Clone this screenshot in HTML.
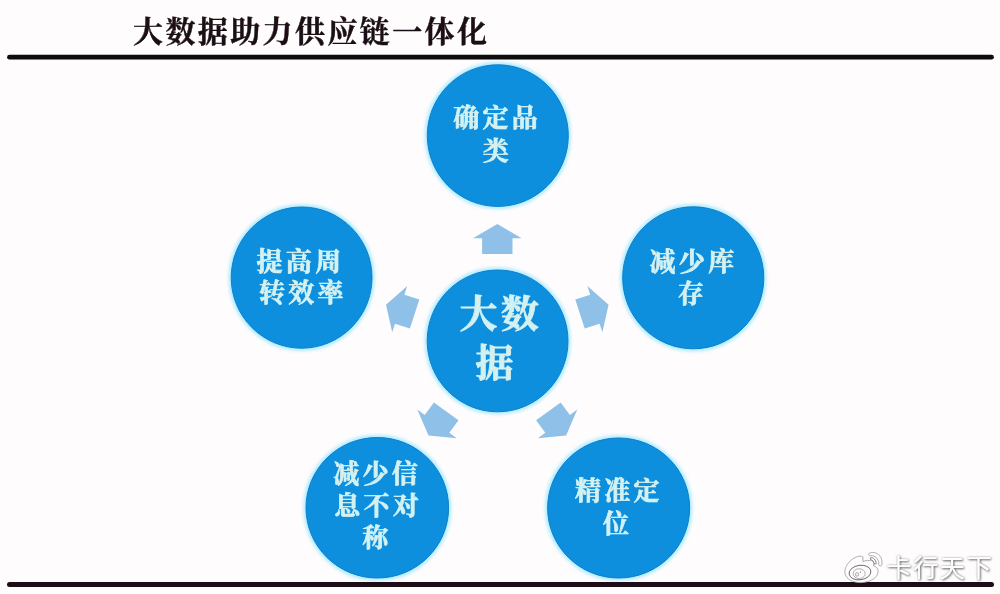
<!DOCTYPE html>
<html lang="zh-CN"><head><meta charset="utf-8"><title>大数据助力供应链一体化</title>
<style>
html,body{margin:0;padding:0;background:#fefcfd;}
body{width:1000px;height:594px;overflow:hidden;position:relative;font-family:"Liberation Serif","Noto Serif CJK SC",serif;}
svg{position:absolute;left:0;top:0;display:block}
.title{font-family:"Liberation Serif","Noto Serif CJK SC",serif;font-weight:700;font-size:30px;fill:#1a1014;letter-spacing:2.4px;stroke:#1a1014;stroke-width:0.4px;stroke-linejoin:round}
.lbl{font-family:"Liberation Serif","Noto Serif CJK SC",serif;font-weight:700;font-size:26px;fill:#d4f1f2;letter-spacing:3.3px;text-anchor:middle;stroke:#d4f1f2;stroke-width:0.7px;stroke-linejoin:round}
.big{font-family:"Liberation Serif","Noto Serif CJK SC",serif;font-weight:700;font-size:38px;fill:#d4f1f2;letter-spacing:3.4px;text-anchor:middle;stroke:#d4f1f2;stroke-width:0.8px;stroke-linejoin:round}
.wm{font-family:"Liberation Sans","Noto Sans CJK SC",sans-serif;font-weight:400;font-size:25px;fill:#ffffff;letter-spacing:1.6px}
</style></head><body>
<svg width="1000" height="594" viewBox="0 0 1000 594">
<defs>
<filter id="soft" x="-5%" y="-5%" width="110%" height="110%"><feGaussianBlur stdDeviation="0.55"/></filter>
<filter id="tsoft" x="-5%" y="-5%" width="110%" height="110%"><feGaussianBlur stdDeviation="0.6"/></filter>
<filter id="asoft" x="-5%" y="-5%" width="110%" height="110%"><feGaussianBlur stdDeviation="0.7"/></filter>
<filter id="halo" x="-10%" y="-10%" width="120%" height="120%"><feGaussianBlur stdDeviation="1.6"/></filter>
<filter id="sh" x="-10%" y="-20%" width="120%" height="140%"><feGaussianBlur in="SourceAlpha" stdDeviation="1.3" result="b"/><feOffset in="b" dx="1.3" dy="1.3" result="o"/><feFlood flood-color="#606060" flood-opacity="0.95"/><feComposite in2="o" operator="in" result="s1"/><feGaussianBlur in="SourceAlpha" stdDeviation="1.2" result="b2"/><feFlood flood-color="#808080" flood-opacity="0.6"/><feComposite in2="b2" operator="in" result="s2"/><feGaussianBlur in="SourceGraphic" stdDeviation="0.35" result="src"/><feMerge><feMergeNode in="s2"/><feMergeNode in="s1"/><feMergeNode in="src"/></feMerge></filter>
</defs>
<rect width="1000" height="594" fill="#fefcfd"/>
<g filter="url(#soft)">
<text class="title" x="133" y="42" filter="url(#tsoft)">大数据助力供应链一体化</text>
<g fill="none" stroke="#b4ecff" stroke-width="5.5" filter="url(#halo)"><ellipse cx="497.8" cy="135.6" rx="70.5" ry="70.8"/>
<ellipse cx="301.6" cy="277.6" rx="70.4" ry="70.6"/>
<ellipse cx="693.25" cy="277.8" rx="70.55" ry="71"/>
<ellipse cx="497.6" cy="340.9" rx="70.4" ry="70.9"/>
<ellipse cx="377.3" cy="507.75" rx="71.3" ry="70.25"/>
<ellipse cx="618.65" cy="508" rx="71" ry="70"/>
</g>
<g fill="#0b8fde" stroke="#0b7fc8" stroke-width="1"><ellipse cx="497.8" cy="135.6" rx="70.5" ry="70.8"/>
<ellipse cx="301.6" cy="277.6" rx="70.4" ry="70.6"/>
<ellipse cx="693.25" cy="277.8" rx="70.55" ry="71"/>
<ellipse cx="497.6" cy="340.9" rx="70.4" ry="70.9"/>
<ellipse cx="377.3" cy="507.75" rx="71.3" ry="70.25"/>
<ellipse cx="618.65" cy="508" rx="71" ry="70"/>
</g>
<g fill="#8fc1e8" filter="url(#asoft)"><polygon points="497.3,223.9 521.6,238.3 512.5,238.3 512.5,253.9 482.1,253.9 482.1,238.3 473.0,238.3"/>
<polygon points="608.6,304.7 602.4,332.3 599.6,323.7 584.7,328.5 575.3,299.6 590.2,294.7 587.4,286.1"/>
<polygon points="566.1,435.6 537.9,438.2 545.3,432.8 536.1,420.2 560.7,402.4 569.9,415.0 577.3,409.6"/>
<polygon points="428.5,435.6 417.3,409.6 424.7,415.0 433.9,402.4 458.5,420.2 449.3,432.8 456.7,438.2"/>
<polygon points="386.0,304.7 407.2,286.1 404.4,294.7 419.3,299.6 409.9,328.5 395.0,323.7 392.2,332.3"/>
</g>
<line x1="9.5" y1="57.2" x2="991.5" y2="57.2" stroke="#0d0709" stroke-width="4.8" stroke-linecap="round"/>
<line x1="9.5" y1="584.4" x2="991.5" y2="584.4" stroke="#1a0a12" stroke-width="5" stroke-linecap="round"/>
<g filter="url(#tsoft)">
<text class="lbl" x="497.1" y="126.8">确定品</text>
<text class="lbl" x="497.5" y="159.8">类</text>
<text class="lbl" x="300.5" y="270.6">提高周</text>
<text class="lbl" x="302.9" y="302.2">转效率</text>
<text class="lbl" x="693.5" y="270.6">减少库</text>
<text class="lbl" x="692.5" y="302.5">存</text>
<text class="lbl" x="377.1" y="483.0">减少信</text>
<text class="lbl" x="378.1" y="515.4">息不对</text>
<text class="lbl" x="376.8" y="547.3">称</text>
<text class="lbl" x="618.9" y="499.8">精准定</text>
<text class="lbl" x="617.6" y="533.2">位</text>
<text class="big" x="500.8" y="327.0">大数</text>
<text class="big" x="496.2" y="375.9">据</text>
</g>
</g>
<g id="weibo" fill="#fefcfd" stroke="#8a8a8a" stroke-width="8" transform="translate(836,543.5) scale(0.08418)">
<path d="M392 118 C430 95 480 105 515 140 C545 170 550 215 545 250 C540 272 515 272 508 255 C512 215 500 180 470 160 C445 145 420 142 398 145 C385 140 385 125 392 118 Z"/>
<path d="M410 168 C440 165 475 190 478 240 L455 245 C452 215 435 195 412 192 Z" stroke="#666" stroke-width="9"/>
<path d="M320 215 L320 160 C300 145 260 150 230 165 C160 200 105 270 105 335 C105 400 170 465 290 465 C400 465 500 410 500 330 C500 290 470 270 445 265 C455 235 445 205 415 200 C390 200 360 205 340 207 Z"/>
<ellipse cx="285" cy="345" rx="130" ry="86" stroke="#5a5a5a" stroke-width="10" transform="rotate(-8 285 345)"/>
<ellipse cx="275" cy="358" rx="72" ry="58" stroke="#7a7a7a" stroke-width="7"/>
<circle cx="250" cy="368" r="20" stroke="#6a6a6a" stroke-width="7"/>
<circle cx="290" cy="340" r="8" fill="#6a6a6a" stroke="none"/>
</g>
<text class="wm" x="886.6" y="577.2" filter="url(#sh)">卡行天下</text>
</svg>
</body></html>
